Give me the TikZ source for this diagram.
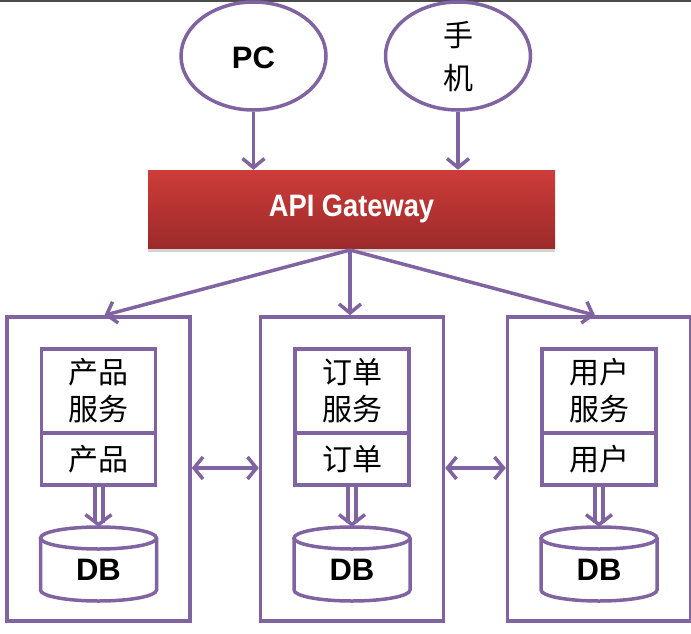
\documentclass[tikz,border=0pt]{standalone}
\usepackage{fontspec}
\setmainfont{Liberation Sans}
\newfontfamily\cjk{Noto Sans CJK SC}
\usetikzlibrary{arrows.meta,shadows,shapes.geometric}
\definecolor{pur}{HTML}{8064A2}
\definecolor{gwtop}{HTML}{CE3C3A}
\definecolor{gwbot}{HTML}{9C2A2A}
\begin{document}
\begin{tikzpicture}[x=1pt,y=-1pt,
  pline/.style={draw=pur, line width=3.5pt},
  barb/.style={-{Straight Barb[length=9pt,width=22pt,line width=3.5pt]}},
  bibarb/.style={{Straight Barb[length=9pt,width=22pt,line width=3.5pt]}-{Straight Barb[length=9pt,width=22pt,line width=3.5pt]}},
  client/.style={pline, ellipse, minimum width=145pt, minimum height=108pt, inner sep=0pt},
  gate/.style={rectangle, minimum width=407pt, minimum height=78pt, top color=gwtop, bottom color=gwbot,
     drop shadow={shadow xshift=0pt, shadow yshift=-4pt, opacity=0.35}, text=white,
     font=\fontsize{31}{34}\selectfont\bfseries},
  outerbox/.style={pline, rectangle, minimum width=183pt, minimum height=304pt, inner sep=0pt},
  svcbox/.style={pline, rectangle, minimum width=114pt, minimum height=84pt, inner sep=0pt, align=center,
     font=\cjk\fontsize{30}{37}\selectfont},
  databox/.style={pline, rectangle, minimum width=114pt, minimum height=52pt, inner sep=0pt,
     font=\cjk\fontsize{30}{37}\selectfont},
  dbspot/.style={rectangle, minimum width=116pt, minimum height=74pt, inner sep=0pt},
  dbtext/.style={font=\fontsize{31}{34}\selectfont\bfseries},
  dbl/.style={draw=pur, line width=4pt, double=white, double distance=4pt,
     -{Straight Barb[length=10pt,width=26pt,line width=3.5pt]}}
]
\useasboundingbox (0,0) rectangle (691,634);
\fill[black!70] (0,0) rectangle (691,2.5);

% clients
\node[client] (pc) at (253.5,56) {};
\node[font=\fontsize{31}{34}\selectfont\bfseries] (pct) at (253.5,58) {PC};
\node[client] (mob) at (458,56) {};
\node[font=\cjk\fontsize{30}{43}\selectfont, align=center] (mobt) at (458,57) {手\\机};

% gateway
\node[gate] (gw) at (351.5,209) {\scalebox{0.88}[1]{API Gateway}};

\draw[pline,barb] (pc.south) -- (pc.south |- gw.north);
\draw[pline,barb] (mob.south) -- (mob.south |- gw.north);

% service columns
\foreach \n/\cx/\a in {1/98.5/产品, 2/352/订单, 3/599/用户}{
  \node[outerbox] (box\n) at (\cx,469) {};
  \node[svcbox] (svc\n) at (\cx,391) {\a\\服务};
  \node[databox] (data\n) at (\cx,459) {\a};
  \node[dbspot] (db\n) at (\cx,564) {};
  \draw[pline] (\cx-58,538) -- (\cx-58,590) arc[start angle=180, end angle=360, x radius=58pt, y radius=11pt] -- (\cx+58,538);
  \draw[pline] (\cx,538) ellipse [x radius=58pt, y radius=11pt];
  \node[dbtext] (dbt\n) at (\cx,570) {DB};
  \draw[dbl] (data\n.south) -- (db\n.north);
}

% gateway to services
\coordinate (gwb) at (350,250);
\draw[pline,barb] (gwb) -- ([xshift=6pt]box1.north);
\draw[pline,barb] (gwb) -- (gwb |- box2.north);
\draw[pline,barb] (gwb) -- ([xshift=-4pt]box3.north);

% service to service
\coordinate (yrow) at (0,468);
\draw[pline,bibarb] (box1.east |- yrow) -- (box2.west |- yrow);
\draw[pline,bibarb] (box2.east |- yrow) -- (box3.west |- yrow);
\end{tikzpicture}
\end{document}
